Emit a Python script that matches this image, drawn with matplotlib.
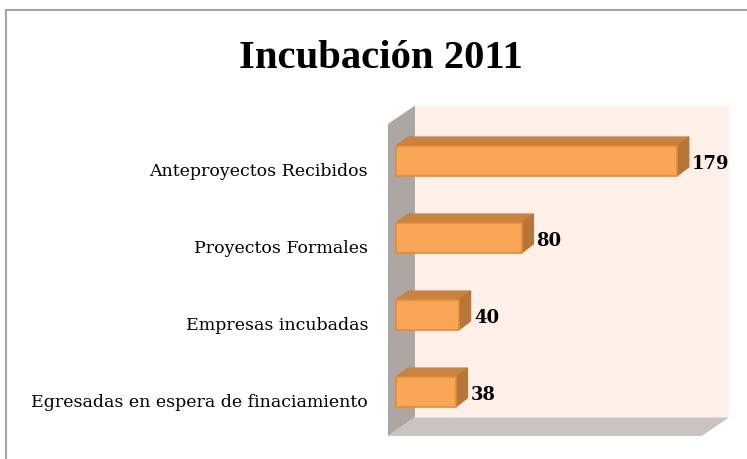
import matplotlib.pyplot as plt
from matplotlib.patches import Polygon, Rectangle
from matplotlib.lines import Line2D

categories = [
    "Anteproyectos Recibidos",
    "Proyectos Formales",
    "Empresas incubadas",
    "Egresadas en espera de finaciamiento",
]
values = [179, 80, 40, 38]
title = "Incubación 2011"

FRONT = "#F9A757"
TOP = "#C98240"
SIDE = "#B8753A"
EDGE = "#E38B38"
WALL = "#FEF0E8"
SIDE_WALL = "#ADA7A3"
FLOOR = "#CBC3BF"

fig = plt.figure(figsize=(7.47, 4.60), dpi=100)
ax = fig.add_axes([0, 0, 1, 1])
ax.set_xlim(-252.2, 223.6)
ax.set_ylim(3.87, -2.104)
ax.axis("off")

# chart walls (back, left side, floor), fake 3D depth
wx0, wx1 = -5.1, 194.9
wy0, wy1 = -0.48, 3.57
ddx, ddy = 17.2, -0.24
ax.add_patch(Polygon([(wx0 + ddx, wy0 + ddy), (wx1 + ddx, wy0 + ddy),
                      (wx1 + ddx, wy1 + ddy), (wx0 + ddx, wy1 + ddy)],
                     closed=True, fc=WALL, ec="none"))
ax.add_patch(Polygon([(wx0, wy0), (wx0 + ddx, wy0 + ddy),
                      (wx0 + ddx, wy1 + ddy), (wx0, wy1)],
                     closed=True, fc=SIDE_WALL, ec="none"))
ax.add_patch(Polygon([(wx0, wy1), (wx0 + ddx, wy1 + ddy),
                      (wx1 + ddx, wy1 + ddy), (wx1, wy1)],
                     closed=True, fc=FLOOR, ec="none"))

# bars with top and side faces
h = 0.195
dx, dy = 7.6, -0.117
for i, (cat, v) in enumerate(zip(categories, values)):
    y0, y1 = i - h, i + h
    ax.add_patch(Polygon([(0, y0), (v, y0), (v + dx, y0 + dy), (dx, y0 + dy)],
                         closed=True, fc=TOP, ec=TOP, lw=0.8))
    ax.add_patch(Polygon([(v, y0), (v + dx, y0 + dy), (v + dx, y1 + dy), (v, y1)],
                         closed=True, fc=SIDE, ec=SIDE, lw=0.8))
    ax.add_patch(Rectangle((0, y0), v, y1 - y0, fc=FRONT, ec=EDGE, lw=1.2))
    ax.text(v + dx + 2, i + 0.02, str(v), ha="left", va="center",
            fontsize=13, fontweight="bold", family="DejaVu Serif")
    ax.text(-17.8, i + 0.12, cat, ha="right", va="center",
            fontsize=12.5, family="DejaVu Serif")

fig.text(0.51, 1 - 68 / 460, title, ha="center", va="baseline",
         fontsize=29.3, fontweight="bold", family="Liberation Serif")

# outer frame (left and top edges)
W, H = 747, 460
fig.add_artist(Line2D([6 / W, 6 / W], [0, 1 - 11 / H], color="#A6A6A6", lw=1.5))
fig.add_artist(Line2D([6 / W, 1], [1 - 11 / H, 1 - 11 / H], color="#A6A6A6", lw=1.5))

fig.savefig("out.png", dpi=100)
